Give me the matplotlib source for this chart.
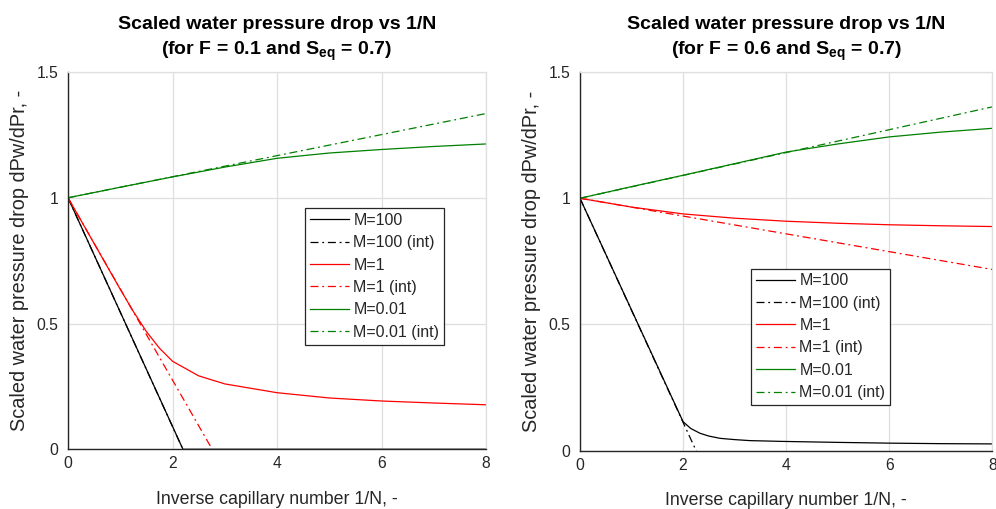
import matplotlib
matplotlib.use("Agg")
import matplotlib.pyplot as plt

# ---- data ----
X_LIMIT = [0, 8]
Y_LIMIT = [0, 1.5]
X_TICKS = [0, 2, 4, 6, 8]
Y_TICKS = [0, 0.5, 1, 1.5]
Y_TICK_LABELS = ["0", "0.5", "1", "1.5"]

# left panel: F = 0.1
left_m100_x = [0, 2.2, 8]
left_m100_y = [1, 0, 0]
left_m100_int_x = [0, 8]
left_m100_int_y = [1, -2.64]
left_m1_x = [0, 0.5, 1, 1.25, 1.5, 1.75, 2, 2.5, 3, 4, 5, 6, 7, 8]
left_m1_y = [1, 0.818, 0.636, 0.548, 0.468, 0.402, 0.35, 0.292, 0.26, 0.225, 0.204, 0.192, 0.184, 0.177]
left_m1_int_x = [0, 8]
left_m1_int_y = [1, -1.9]
left_m001_x = [0, 1, 2, 3, 4, 5, 6, 7, 8]
left_m001_y = [1, 1.042, 1.083, 1.122, 1.157, 1.178, 1.192, 1.204, 1.214]
left_m001_int_x = [0, 8]
left_m001_int_y = [1, 1.335]

# right panel: F = 0.6
right_m100_x = [0, 2.0, 2.15, 2.33, 2.5, 2.72, 3.0, 3.3, 3.9, 5, 6, 7, 8]
right_m100_y = [1, 0.115, 0.088, 0.069, 0.058, 0.049, 0.044, 0.040, 0.037, 0.033, 0.030, 0.028, 0.027]
right_m100_int_x = [0, 8]
right_m100_int_y = [1, -2.55]
right_m1_x = [0, 1, 2, 3, 4, 5, 6, 7, 8]
right_m1_y = [1, 0.965, 0.938, 0.921, 0.909, 0.901, 0.895, 0.891, 0.888]
right_m1_int_x = [0, 8]
right_m1_int_y = [1, 0.718]
right_m001_x = [0, 1, 2, 3, 4, 5, 6, 7, 8]
right_m001_y = [1, 1.046, 1.091, 1.137, 1.183, 1.215, 1.243, 1.262, 1.277]
right_m001_int_x = [0, 8]
right_m001_int_y = [1, 1.362]

LEGEND_LABELS = ["M=100", "M=100 (int)", "M=1", "M=1 (int)", "M=0.01", "M=0.01 (int)"]
TITLE_LEFT = "Scaled water pressure drop vs 1/N\n(for F = 0.1 and $\\mathbf{S_{eq}}$ = 0.7)"
TITLE_RIGHT = "Scaled water pressure drop vs 1/N\n(for F = 0.6 and $\\mathbf{S_{eq}}$ = 0.7)"
X_LABEL = "Inverse capillary number 1/N, -"
Y_LABEL = "Scaled water pressure drop dPw/dPr, -"

# ---- style ----
FONT = "Liberation Sans"
AX_COLOR = "#262626"
GRID_COLOR = "#dfdfdf"
BLACK = "#000000"
RED = "#ff0000"
GREEN = "#008000"
LW = 0.9
DASHDOT = (0, (6.4, 3, 1.5, 3))

plt.rcParams["font.family"] = [FONT, "DejaVu Sans"]
plt.rcParams["mathtext.fontset"] = "custom"
plt.rcParams["mathtext.rm"] = FONT
plt.rcParams["mathtext.bf"] = FONT + ":bold"

fig = plt.figure(figsize=(9.96, 5.09), dpi=100)
fig.set_facecolor("white")

ax_left = fig.add_axes([0.0683, 0.1173, 0.4197, 0.7412])
ax_right = fig.add_axes([0.5823, 0.1145, 0.4140, 0.7440])


def style_axes(ax, title):
    ax.set_xlim(X_LIMIT)
    ax.set_ylim(Y_LIMIT)
    ax.set_xticks(X_TICKS)
    ax.set_yticks(Y_TICKS)
    ax.set_yticklabels(Y_TICK_LABELS)
    ax.grid(True, color=GRID_COLOR, linewidth=0.9)
    ax.set_axisbelow(True)
    for side in ["top", "right"]:
        ax.spines[side].set_color(GRID_COLOR)
        ax.spines[side].set_linewidth(0.9)
    for side in ["left", "bottom"]:
        ax.spines[side].set_color(AX_COLOR)
        ax.spines[side].set_linewidth(1.0)
    ax.tick_params(length=0, labelsize=11.3, colors=AX_COLOR)
    ax.tick_params(axis="y", pad=7)
    ax.tick_params(axis="x", pad=5)
    ax.set_xlabel(X_LABEL, fontsize=12.8, color=AX_COLOR, labelpad=14)
    ax.set_ylabel(Y_LABEL, fontsize=14.3, color=AX_COLOR, labelpad=5)
    ax.set_title(title, fontsize=14, fontweight="bold", color="black", pad=12,
                 linespacing=1.5)


def draw_panel(ax, data):
    colors = [BLACK, BLACK, RED, RED, GREEN, GREEN]
    styles = ["-", DASHDOT, "-", DASHDOT, "-", DASHDOT]
    for (xs, ys), lab, col, ls in zip(data, LEGEND_LABELS, colors, styles):
        ax.plot(xs, ys, color=col, linestyle=ls, linewidth=LW, label=lab)


draw_panel(ax_left, [
    (left_m100_x, left_m100_y), (left_m100_int_x, left_m100_int_y),
    (left_m1_x, left_m1_y), (left_m1_int_x, left_m1_int_y),
    (left_m001_x, left_m001_y), (left_m001_int_x, left_m001_int_y),
])
draw_panel(ax_right, [
    (right_m100_x, right_m100_y), (right_m100_int_x, right_m100_int_y),
    (right_m1_x, right_m1_y), (right_m1_int_x, right_m1_int_y),
    (right_m001_x, right_m001_y), (right_m001_int_x, right_m001_int_y),
])

style_axes(ax_left, TITLE_LEFT)
style_axes(ax_right, TITLE_RIGHT)

for ax, anchor in [(ax_left, (0.567, 0.639)), (ax_right, (0.415, 0.481))]:
    leg = ax.legend(loc="upper left", bbox_to_anchor=anchor, borderaxespad=0,
                    fontsize=11.5, fancybox=False, framealpha=1, edgecolor=AX_COLOR,
                    handlelength=2.45, handletextpad=0.28, labelspacing=0.46,
                    borderpad=0.3)
    leg.get_frame().set_linewidth(0.9)
    for t in leg.get_texts():
        t.set_color(AX_COLOR)

fig.savefig("out.png", dpi=100, facecolor="white")
